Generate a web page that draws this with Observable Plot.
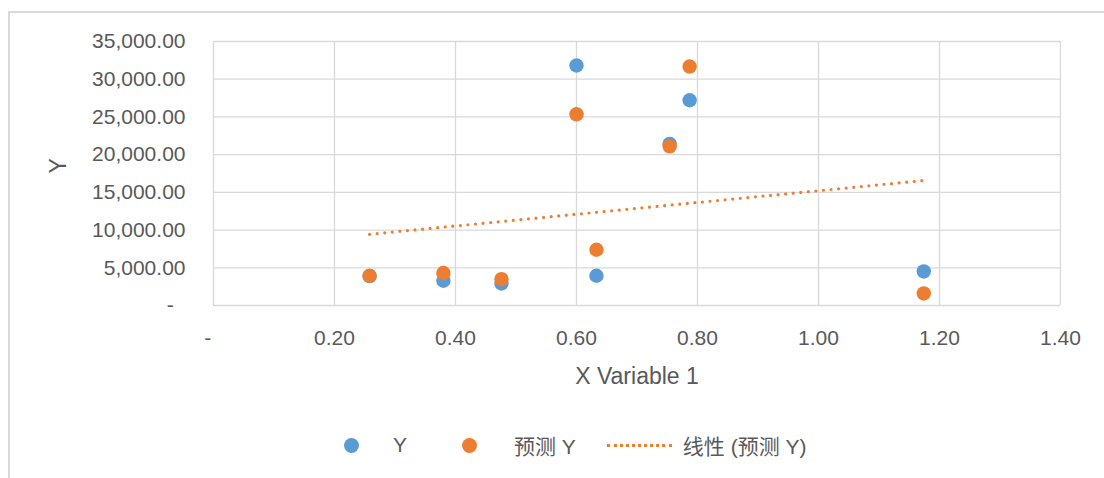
<!DOCTYPE html>
<html>
<head>
<meta charset="utf-8">
<script src="https://cdn.jsdelivr.net/npm/d3@7"></script>
<script src="https://cdn.jsdelivr.net/npm/@observablehq/plot@0.6"></script>
<style>
  html, body { margin: 0; padding: 0; background: #fff; width: 1104px; height: 478px; overflow: hidden; position: relative; }
  .frame { position: absolute; left: 8px; top: 11px; width: 1200px; height: 1000px; border-left: 2px solid #d9d9d9; border-top: 2px solid #d9d9d9; }
  #chart { position: absolute; left: 0; top: 0; }
  .legend { position: absolute; top: 431px; left: 344px; display: flex; align-items: center; font-family: "Liberation Sans", "Noto Sans CJK SC", sans-serif; font-size: 21px; color: #595959; height: 28px; white-space: nowrap; }
  .sw { width: 15px; height: 15px; border-radius: 50%; display: inline-block; }
  .ln { width: 65px; height: 0; border-top: 3px dotted #ED7D31; display: inline-block; }
</style>
</head>
<body>
<div class="frame"></div>
<div id="chart"></div>
<div class="legend">
  <span class="sw" style="background:#5B9BD5"></span>
  <span style="margin-left:34px">Y</span>
  <span class="sw" style="background:#ED7D31;margin-left:55px"></span>
  <span style="margin-left:37px">预测 Y</span>
  <span class="ln" style="margin-left:31px"></span>
  <span style="margin-left:11px">线性 (预测 Y)</span>
</div>
<script>
// X Variable 1 values
const xValues = [0.258, 0.380, 0.476, 0.600, 0.633, 0.754, 0.787, 1.174];
// Observed Y
const yActual = [3900, 3280, 2920, 31820, 3940, 21420, 27210, 4515];
// Predicted Y (预测 Y)
const yPred = [3942, 4300, 3500, 25350, 7390, 21100, 31680, 1600];
// Axis ticks
const xTicks = [0, 0.2, 0.4, 0.6, 0.8, 1.0, 1.2, 1.4];
const yTicks = [0, 5000, 10000, 15000, 20000, 25000, 30000, 35000];
const seriesNames = ["Y", "预测 Y", "线性 (预测 Y)"];
const xTitle = "X Variable 1";
const yTitle = "Y";

const actualData = xValues.map((x, i) => ({x, y: yActual[i]}));
const predData = xValues.map((x, i) => ({x, y: yPred[i]}));

const fmtY = d3.format(",.2f");
const fmtX = d3.format(".2f");
const dash = "-\u00a0\u00a0";

const blue = "#5B9BD5", orange = "#ED7D31", grid = "#d9d9d9", txt = "#595959";

const chart = Plot.plot({
  width: 1104,
  height: 400,
  marginLeft: 213,
  marginRight: 44,
  marginTop: 41,
  marginBottom: 95,
  style: {fontFamily: "'Liberation Sans', 'Noto Sans CJK SC', sans-serif", fontSize: "21px", color: txt, background: "transparent"},
  x: {domain: [0, 1.4]},
  y: {domain: [0, 35000]},
  marks: [
    Plot.gridX(xTicks, {stroke: grid, strokeOpacity: 1, strokeWidth: 1.3}),
    Plot.gridY(yTicks, {stroke: grid, strokeOpacity: 1, strokeWidth: 1.3}),
    Plot.axisX(xTicks, {tickSize: 0, tickPadding: 25, tickFormat: d => d === 0 ? dash : fmtX(d), label: null, fontSize: 21, fill: txt}),
    Plot.axisY(yTicks, {tickSize: 0, tickPadding: 28, tickFormat: d => d === 0 ? dash : fmtY(d), label: null, fontSize: 21, fill: txt}),
    Plot.linearRegressionY(predData, {x: "x", y: "y", ci: 0, stroke: orange, strokeWidth: 3.2, strokeDasharray: "0 7.6", strokeLinecap: "round"}),
    Plot.dot(actualData, {x: "x", y: "y", r: 7.2, fill: blue, stroke: "none"}),
    Plot.dot(predData, {x: "x", y: "y", r: 7.2, fill: orange, stroke: "none"}),
    Plot.text([xTitle], {frameAnchor: "bottom", dy: 71, text: d => d, fontSize: 23, fill: txt, lineAnchor: "middle"}),
    Plot.text([yTitle], {frameAnchor: "left", dx: -155, text: d => d, rotate: -90, fontSize: 23, fill: txt, lineAnchor: "middle"})
  ]
});
document.getElementById("chart").append(chart);
</script>
</body>
</html>
